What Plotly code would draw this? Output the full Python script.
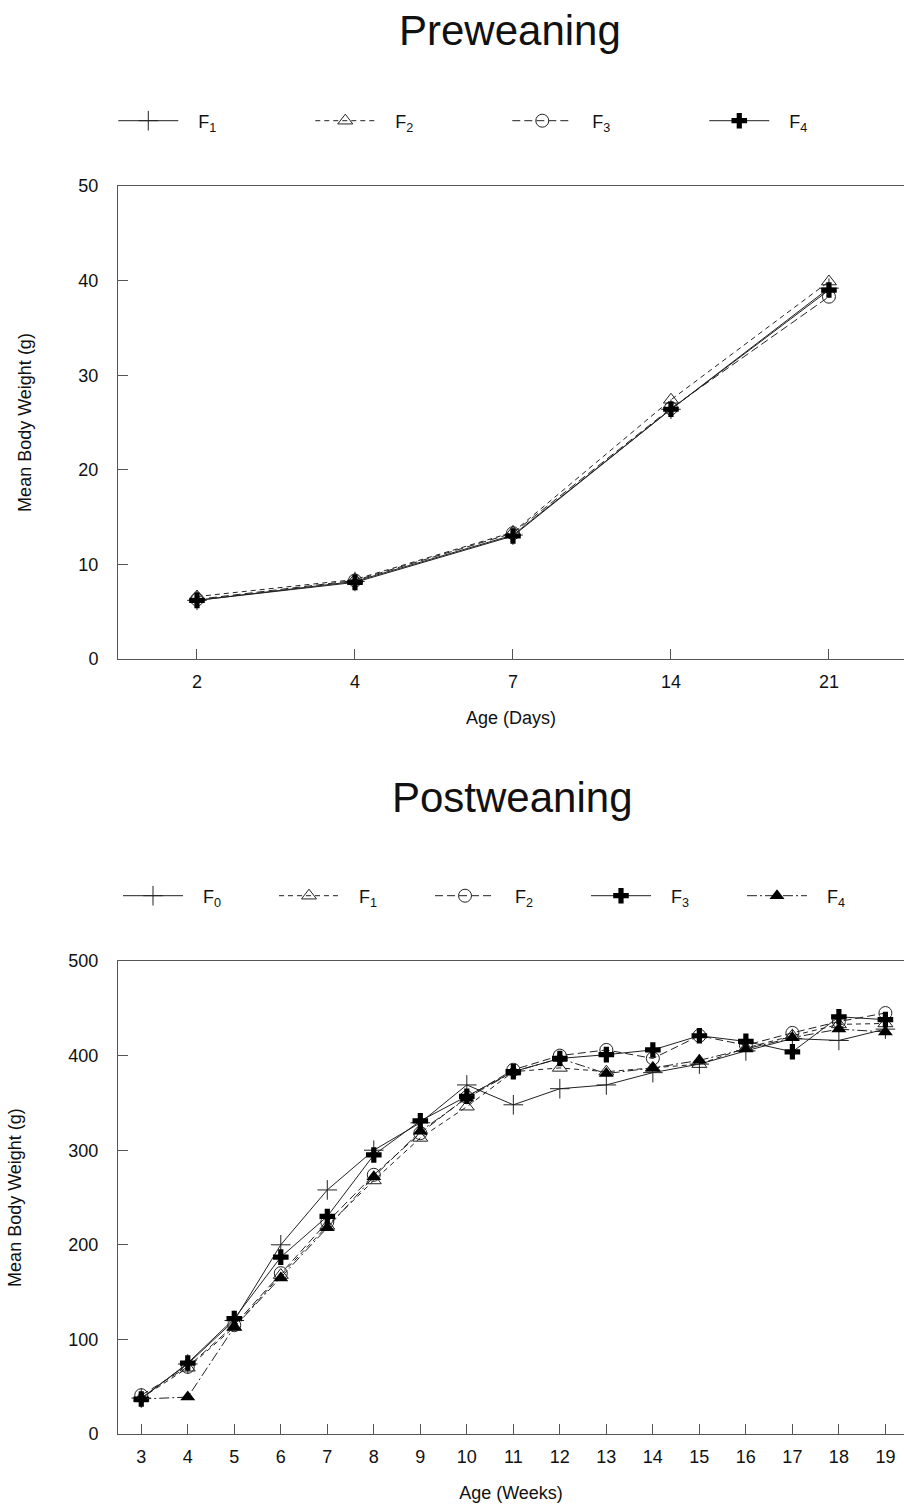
import plotly.graph_objects as go

# ---------------- data ----------------
pre_days = ["2", "4", "7", "14", "21"]
pre_F1 = [6.2, 8.2, 13.1, 26.4, 39.2]
pre_F2 = [6.6, 8.4, 13.4, 27.4, 39.9]
pre_F3 = [6.3, 8.3, 13.3, 26.5, 38.3]
pre_F4 = [6.2, 8.1, 13.0, 26.4, 39.0]

post_weeks = [str(w) for w in range(3, 20)]
post_F0 = [38, 74, 120, 200, 258, 300, 329, 369, 348, 365, 369, 382, 391, 405, 418, 416, 428]
post_F1 = [38, 70, 113, 168, 220, 268, 313, 346, 383, 387, 383, 387, 391, 408, 421, 433, 434]
post_F2 = [41, 71, 115, 170, 224, 274, 318, 356, 385, 400, 406, 397, 421, 411, 424, 436, 445]
post_F3 = [37, 75, 122, 187, 230, 295, 331, 357, 383, 397, 401, 406, 421, 415, 404, 441, 438]
post_F4 = [37, 39, 113, 165, 218, 272, 320, 355, 383, 397, 381, 387, 395, 407, 419, 428, 425]

FONT = "Liberation Sans, Arial, sans-serif"
AX = "#555555"

styles = {
    "thinplus": dict(symbol="cross-thin-open", size=14, color="#222", line=dict(width=1, color="#222")),
    "otri": dict(symbol="triangle-up-open", size=13, color="#222", line=dict(width=1, color="#222")),
    "ocirc": dict(symbol="circle-open", size=13, color="#222", line=dict(width=1, color="#222")),
    "bplus": dict(symbol="cross", size=13, color="#000", line=dict(width=0)),
    "ftri": dict(symbol="triangle-up", size=13, color="#000", line=dict(width=0)),
}

fig = go.Figure()

def add(x, y, name, marker, dash, xa, ya, leg):
    fig.add_trace(go.Scatter(
        x=x, y=y, name="&nbsp;&nbsp;&nbsp;" + name, mode="lines+markers",
        line=dict(color="#222", width=1, dash=dash),
        marker=styles[marker], xaxis=xa, yaxis=ya, legend=leg,
    ))

add(pre_days, pre_F1, "F<sub>1</sub>", "thinplus", "solid", "x", "y", "legend")
add(pre_days, pre_F2, "F<sub>2</sub>", "otri", "5px,4px", "x", "y", "legend")
add(pre_days, pre_F3, "F<sub>3</sub>", "ocirc", "8px,4px", "x", "y", "legend")
add(pre_days, pre_F4, "F<sub>4</sub>", "bplus", "solid", "x", "y", "legend")

add(post_weeks, post_F0, "F<sub>0</sub>", "thinplus", "solid", "x2", "y2", "legend2")
add(post_weeks, post_F1, "F<sub>1</sub>", "otri", "5px,4px", "x2", "y2", "legend2")
add(post_weeks, post_F2, "F<sub>2</sub>", "ocirc", "8px,4px", "x2", "y2", "legend2")
add(post_weeks, post_F3, "F<sub>3</sub>", "bplus", "solid", "x2", "y2", "legend2")
add(post_weeks, post_F4, "F<sub>4</sub>", "ftri", "10px,3px,2px,3px", "x2", "y2", "legend2")

tickfont = dict(family=FONT, size=18, color="#111")
titlefont = dict(family=FONT, size=18, color="#111")

def xaxis(title, anchor, n_pad):
    return dict(
        type="category", range=[-0.5, n_pad], anchor=anchor,
        showline=True, linecolor=AX, linewidth=1, mirror=True,
        ticks="inside", ticklen=10, tickcolor=AX, ticklabelstandoff=6,
        showgrid=False, zeroline=False, tickfont=tickfont,
        title=dict(text=title, font=titlefont, standoff=20),
    )

def yaxis(rng, dtick, domain, anchor):
    return dict(
        range=rng, dtick=dtick, domain=domain, anchor=anchor,
        showline=True, linecolor=AX, linewidth=1, mirror=False,
        ticks="inside", ticklen=10, tickcolor=AX, ticklabelstandoff=15,
        showgrid=False, zeroline=False, tickfont=tickfont,
        title=dict(text="Mean Body Weight (g)", font=titlefont, standoff=42),
    )

legfont = dict(family=FONT, size=18, color="#111")

plot_h = 1507 - 186 - 73
def py(pix):
    return (1434 - pix) / plot_h

fig.update_layout(
    width=904, height=1507,
    margin=dict(l=118, r=0, t=186, b=73),
    paper_bgcolor="white", plot_bgcolor="white",
    showlegend=True,
    xaxis=xaxis("Age (Days)", "y", 4.475),
    yaxis=yaxis([0, 50], 10, [0.621, 1.0], "x"),
    xaxis2=xaxis("Age (Weeks)", "y2", 16.4),
    yaxis2=yaxis([0, 500], 100, [0.0, 0.379], "x2"),
    legend=dict(orientation="h", x=-0.006, xanchor="left", y=py(121), yanchor="middle",
                entrywidth=122, entrywidthmode="pixels", font=legfont,
                bgcolor="rgba(0,0,0,0)", itemwidth=60),
    legend2=dict(orientation="h", x=0, xanchor="left", y=py(896), yanchor="middle",
                 entrywidth=81, entrywidthmode="pixels", font=legfont,
                 bgcolor="rgba(0,0,0,0)", itemwidth=60),
    annotations=[
        dict(text="Preweaning", x=(510 - 118) / 786, xref="paper", xanchor="center",
             y=py(30), yref="paper", yanchor="middle", showarrow=False,
             font=dict(family=FONT, size=42, color="#111")),
        dict(text="Postweaning", x=(512 - 118) / 786, xref="paper", xanchor="center",
             y=py(797), yref="paper", yanchor="middle", showarrow=False,
             font=dict(family=FONT, size=42, color="#111")),
    ],
)

fig.write_html("out.html", config={"displayModeBar": False},
               post_script="document.body.style.margin='0px';document.body.style.overflow='hidden';")
